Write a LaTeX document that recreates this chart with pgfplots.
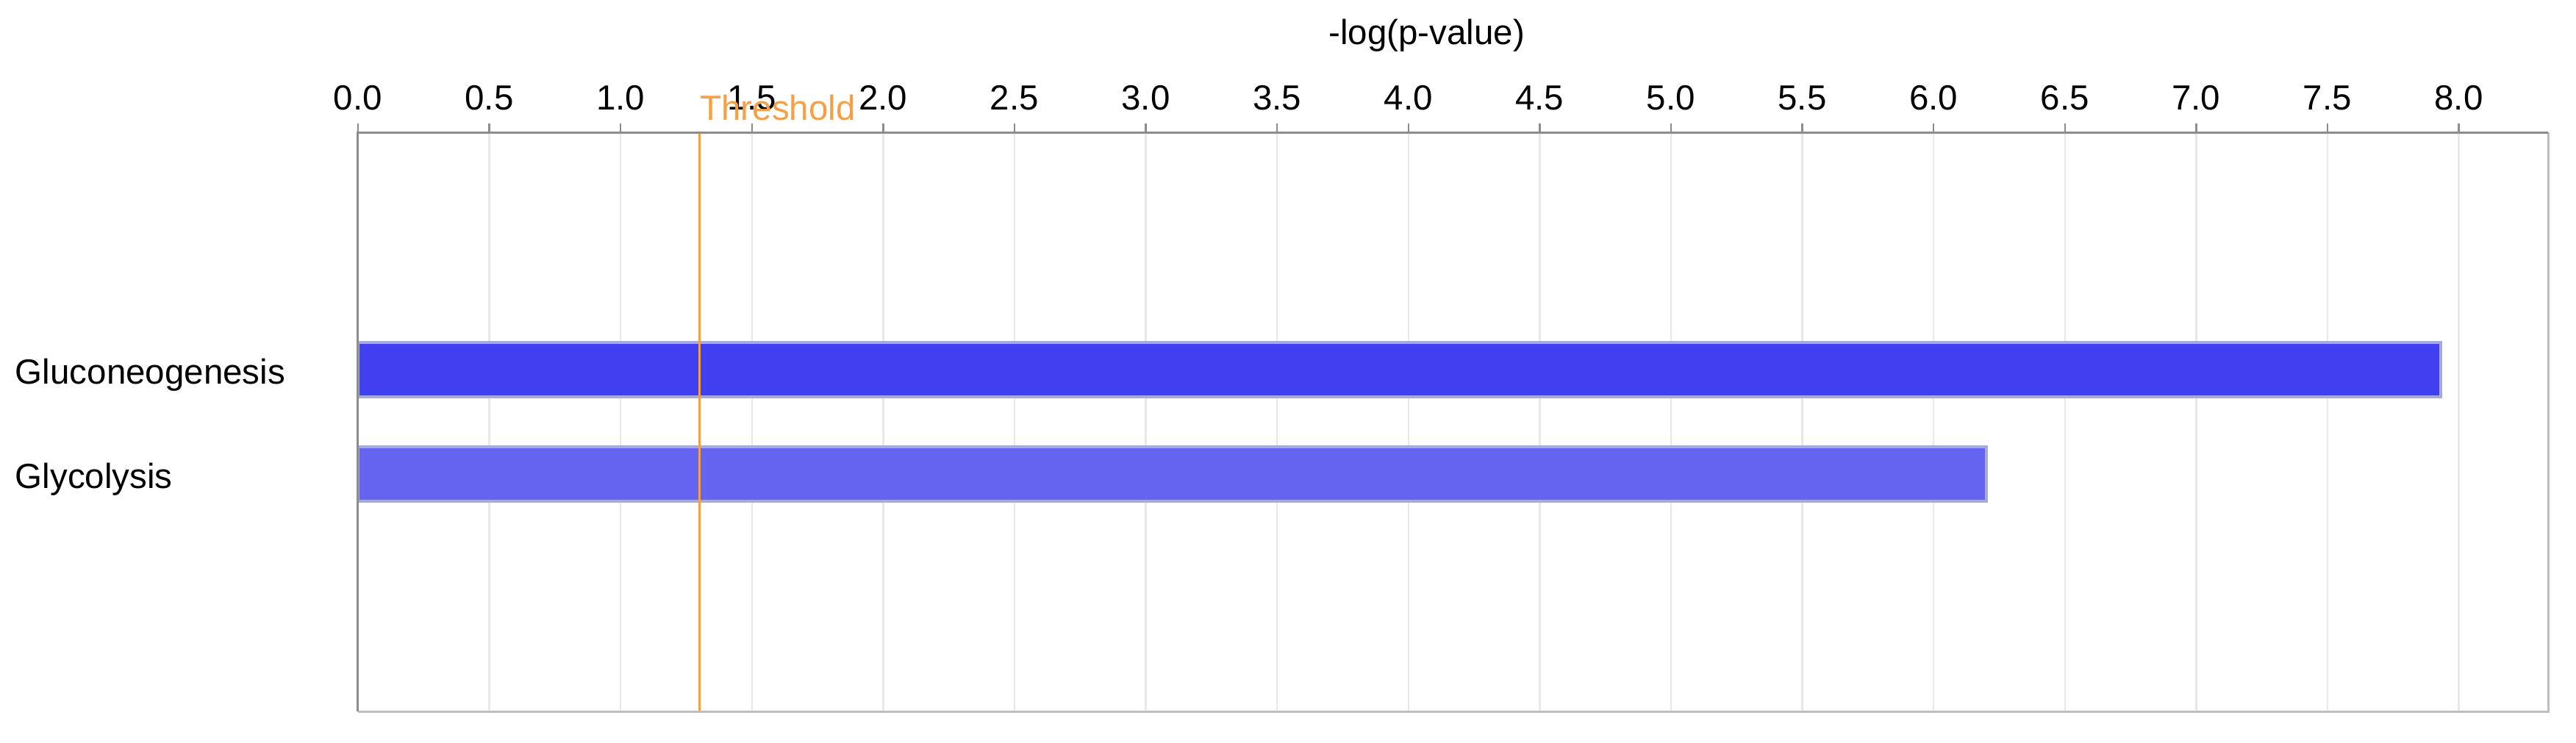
\documentclass[border=0pt]{standalone}
\usepackage{pgfplots}
\pgfplotsset{compat=1.18}
\usepackage{fontspec}
\setmainfont{Liberation Sans}
\definecolor{barA}{RGB}{64,64,240}
\definecolor{barB}{RGB}{100,100,240}
\definecolor{barEdge}{RGB}{165,170,220}
\definecolor{thr}{RGB}{245,160,70}
\definecolor{frameD}{RGB}{140,140,140}
\definecolor{frameL}{RGB}{190,190,190}

\begin{document}
\begin{tikzpicture}
\begin{axis}[
  name=ax,
  scale only axis, width=595.8pt, height=157.6pt,
  xmin=0, xmax=8.34, ymin=-2.275, ymax=3.275,
  xbar, bar width=0.52, bar shift=0pt,
  xtick={0,0.5,...,8},
  xtick pos=right, xticklabel pos=right,
  tick align=outside, major tick length=2.4pt,
  tick style={frameD, line width=0.5pt},
  xticklabel style={font=\fontsize{9.5}{11}\selectfont},
  /pgf/number format/fixed,
  /pgf/number format/fixed zerofill,
  /pgf/number format/precision=1,
  /pgf/number format/assume math mode=true,
  ytick={0,1}, yticklabels={Glycolysis,Gluconeogenesis},
  yticklabel style={anchor=base west, inner sep=0pt, xshift=-91pt, yshift=-3.9pt,
                    font=\fontsize{9.5}{11}\selectfont},
  ytick style={draw=none},
  xmajorgrids, major grid style={gray!18, line width=0.5pt},
  axis line style={draw=none},
  clip=false,
]
  \addplot[fill=barA, draw=barEdge, line width=0.8pt] coordinates {(7.93,1)};
  \addplot[fill=barB, draw=barEdge, line width=0.8pt] coordinates {(6.20,0)};
  % threshold at -log(0.05)
  \addplot[thr, sharp plot, line width=0.5pt] coordinates {(1.3,-2.275) (1.3,3.275)};
  \draw[frameL, line width=0.6pt] (rel axis cs:1,1) -- (rel axis cs:1,0) -- (rel axis cs:0,0);
  \draw[frameD, line width=0.6pt] (rel axis cs:0,0) -- (rel axis cs:0,1) -- (rel axis cs:1,1);
  \node[thr, anchor=base west, inner sep=0pt, font=\fontsize{9.5}{11}\selectfont]
    at ([yshift=3.4pt]axis cs:1.3,3.275) {Threshold};
  \node[anchor=base, inner sep=0pt, font=\fontsize{9.5}{11}\selectfont]
    at ([yshift=24pt]axis cs:4.07,3.275) {-log(p-value)};
\end{axis}
\path ([xshift=-97.4pt,yshift=-8.4pt]ax.south west) rectangle ([xshift=7.6pt,yshift=36pt]ax.north east);
\end{tikzpicture}
\end{document}
